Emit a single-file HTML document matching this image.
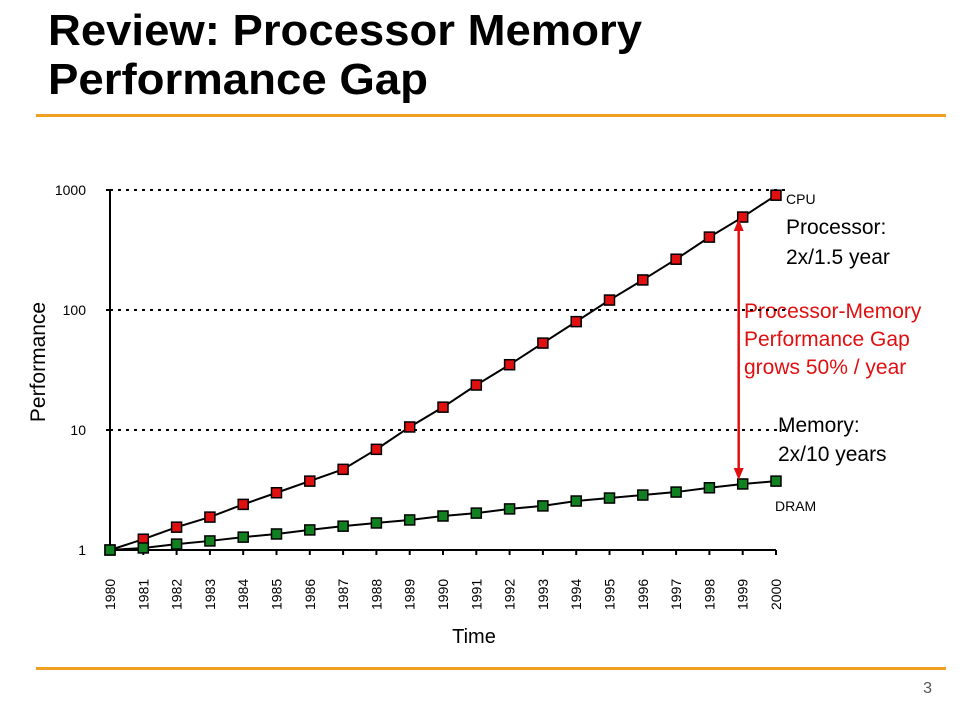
<!DOCTYPE html>
<html><head><meta charset="utf-8"><style>
body{margin:0;background:#fff;}
#wrap{position:relative;width:960px;height:720px;overflow:hidden;font-family:"Liberation Sans",sans-serif;}
</style></head><body>
<div id="wrap">
<svg width="960" height="720" id="chart" style="position:absolute;left:0;top:0">
<text x="48" y="45" font-size="44" font-weight="bold" fill="#000" textLength="594" lengthAdjust="spacingAndGlyphs">Review: Processor Memory</text>
<text x="48" y="94" font-size="44" font-weight="bold" fill="#000" textLength="380" lengthAdjust="spacingAndGlyphs">Performance Gap</text>
<rect x="36" y="114" width="910" height="3" fill="#f0a020"/>
<rect x="36" y="667" width="910" height="3" fill="#f0a020"/>
<text x="932" y="693" font-size="16" fill="#555" text-anchor="end">3</text>
<text x="474" y="643" font-size="20" text-anchor="middle">Time</text>
<text transform="translate(45,362) rotate(-90)" font-size="21" text-anchor="middle">Performance</text>
<text x="786" y="204" font-size="14">CPU</text>
<text x="775" y="511" font-size="14">DRAM</text>
<text x="786" y="234" font-size="21">Processor:</text>
<text x="786" y="264" font-size="21">2x/1.5 year</text>
<text x="778" y="432" font-size="21">Memory:</text>
<text x="778" y="461" font-size="21">2x/10 years</text>
<text x="744" y="318" font-size="21" fill="#e01010">Processor-Memory</text>
<text x="744" y="346" font-size="21" fill="#e01010">Performance Gap</text>
<text x="744" y="374" font-size="21" fill="#e01010">grows 50% / year</text>
<g id="plot"></g>
</svg>
</div>
<script>
const years=[1980,1981,1982,1983,1984,1985,1986,1987,1988,1989,1990,1991,1992,1993,1994,1995,1996,1997,1998,1999,2000];
const cpuValues=[1,1.23,1.55,1.88,2.4,3.0,3.75,4.7,6.9,10.6,15.5,23.7,35,53,80,121,178,265,405,595,905];
const dramValues=[1,1.04,1.12,1.19,1.28,1.36,1.47,1.58,1.68,1.78,1.92,2.03,2.2,2.33,2.56,2.71,2.87,3.04,3.3,3.55,3.75];
const yTicks=[1,10,100,1000];
const NS="http://www.w3.org/2000/svg";
const g=document.getElementById('plot');
const x0=110,x1=776,yb=550,yt=190;
function xs(yr){return x0+(yr-years[0])/(years[years.length-1]-years[0])*(x1-x0);}
function ys(v){return yb-(Math.log10(v)/3)*(yb-yt);}
function el(t,a){const e=document.createElementNS(NS,t);for(const k in a)e.setAttribute(k,a[k]);g.appendChild(e);return e;}
yTicks.forEach(v=>{
 if(v>1){const l=el('line',{x1:x0,x2:790,y1:ys(v),y2:ys(v),stroke:'#000','stroke-width':2,'stroke-dasharray':'3,5'});
 
 }
 const tk=el('line',{x1:x0-4,x2:x0,y1:ys(v),y2:ys(v),stroke:'#000','stroke-width':2});
 
 
 const t=el('text',{x:x0-24,y:ys(v)+5,'font-size':14,'text-anchor':'end'});t.textContent=v;
 
 
});
const ax=el('line',{x1:x0,x2:x0,y1:yt,y2:yb,stroke:'#000','stroke-width':2});


const bx=el('line',{x1:x0,x2:x1,y1:yb,y2:yb,stroke:'#000','stroke-width':2});


years.forEach(yr=>{
 const tk=el('line',{x1:xs(yr),x2:xs(yr),y1:yb,y2:yb+5,stroke:'#000','stroke-width':2});
 
 
 const t=el('text',{transform:`translate(${xs(yr)+5},${yb+60}) rotate(-90)`,'font-size':14});t.textContent=yr;
 
 
});
function series(vals,color,name){
 const p=el('polyline',{points:vals.map((v,i)=>xs(years[i])+','+ys(v)).join(' '),fill:'none',stroke:'#000','stroke-width':2});
 
 
 vals.forEach((v,i)=>{
  const r=el('rect',{x:xs(years[i])-5,y:ys(v)-5,width:10,height:10,fill:color,stroke:'#000','stroke-width':1.5});
  
  
 });
}
series(cpuValues,'#e01010','cpu');
series(dramValues,'#108020','dram');
const last=years.length-2;
const ax2=xs(years[last])-4;
const a=el('line',{x1:ax2,x2:ax2,y1:ys(cpuValues[last])+10,y2:ys(dramValues[last])-10,stroke:'#e01010','stroke-width':2.5});


const h1=el('polygon',{points:`${ax2},${ys(cpuValues[last])+2} ${ax2-5},${ys(cpuValues[last])+14} ${ax2+5},${ys(cpuValues[last])+14}`,fill:'#e01010'});


const h2=el('polygon',{points:`${ax2},${ys(dramValues[last])-4} ${ax2-5},${ys(dramValues[last])-16} ${ax2+5},${ys(dramValues[last])-16}`,fill:'#e01010'});


</script>
</body></html>
